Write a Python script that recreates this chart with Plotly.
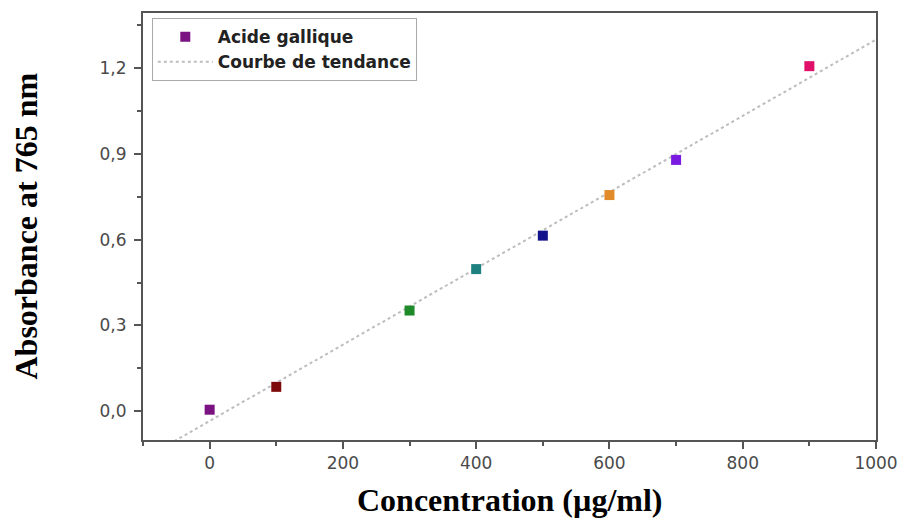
import numpy as np
import plotly.graph_objects as go

concentration = [0, 100, 300, 400, 500, 600, 700, 900]
absorbance = [0.005, 0.085, 0.352, 0.497, 0.614, 0.756, 0.879, 1.207]
point_colors = ["#7a1282", "#7d0a0a", "#1f8a2a", "#1f8080", "#12128a",
                "#e08a2a", "#7a1ae0", "#e0106a"]
x_ticks = [0, 200, 400, 600, 800, 1000]
y_ticks = [0.0, 0.3, 0.6, 0.9, 1.2]
y_tick_labels = ["0,0", "0,3", "0,6", "0,9", "1,2"]

x_range = [-100, 1000]
y_range = [-0.101, 1.393]

slope, intercept = np.polyfit(concentration, absorbance, 1)
trend_x = np.linspace(x_range[0], x_range[1], 200)
trend_y = slope * trend_x + intercept

fig = go.Figure()
fig.add_trace(go.Scatter(
    x=trend_x, y=trend_y, mode="lines", name="Courbe de tendance",
    line=dict(color="#bdbdbd", width=2, dash="dot"), legendrank=2,
))
fig.add_trace(go.Scatter(
    x=concentration, y=absorbance, mode="markers", name="Acide gallique",
    marker=dict(symbol="square", size=10, color=point_colors,
                line=dict(width=0)), legendrank=1,
))

axis_common = dict(
    showgrid=False, zeroline=False, showline=True, linecolor="#555555",
    linewidth=2, mirror=True, ticks="outside", ticklen=7, tickwidth=2,
    tickcolor="#555555", automargin=False,
    tickfont=dict(family="DejaVu Sans", size=17, color="#4a4a4a"),
)

title_font = dict(family="Liberation Serif, Times New Roman", size=32,
                  color="black")

# page body has an 8px offset; margins compensate for it
fig.update_layout(
    width=910, height=521,
    margin=dict(l=135, r=42, t=5, b=89),
    paper_bgcolor="white", plot_bgcolor="white",
    xaxis=dict(range=x_range, tickvals=x_ticks, **axis_common,
               minor=dict(ticks="outside", ticklen=4, tickwidth=2,
                          tickcolor="#555555", dtick=100, tick0=0)),
    yaxis=dict(range=y_range, tickvals=y_ticks, ticktext=y_tick_labels,
               ticklabelstandoff=4, **axis_common,
               minor=dict(ticks="outside", ticklen=4, tickwidth=2,
                          tickcolor="#555555", dtick=0.15, tick0=0)),
    legend=dict(x=0.012, y=0.988, xanchor="left", yanchor="top",
                bgcolor="white", bordercolor="#aaaaaa", borderwidth=1,
                font=dict(family="DejaVu Sans", size=17,
                          color="#222222", weight="bold"),
                tracegroupgap=0, itemwidth=55, traceorder="normal"),
    showlegend=True,
    annotations=[
        dict(text="<b>Concentration (µg/ml)</b>", xref="paper", yref="paper",
             x=0.5, y=0, xanchor="center", yanchor="middle", yshift=-60,
             showarrow=False, font=title_font),
        dict(text="<b>Absorbance at 765 nm</b>", xref="paper", yref="paper",
             x=0, y=0.5, xanchor="center", yanchor="middle", xshift=-118,
             textangle=-90, showarrow=False, font=title_font),
    ],
)

fig.write_html("out.html")
